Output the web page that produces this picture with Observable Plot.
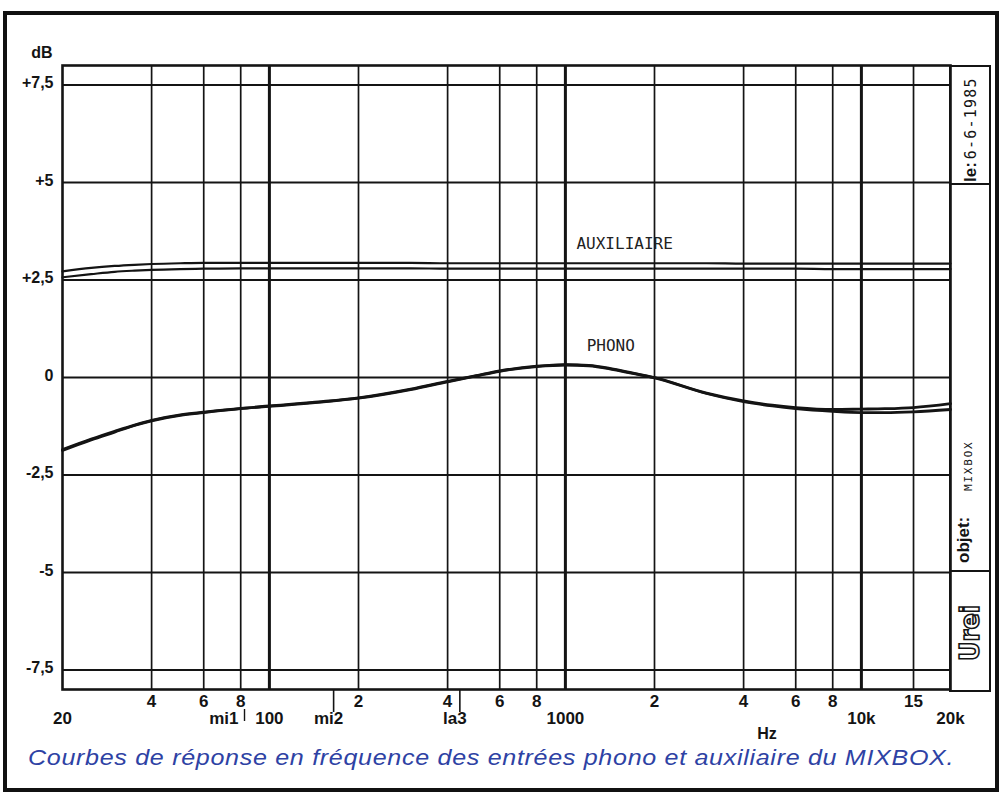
<!DOCTYPE html>
<html>
<head>
<meta charset="utf-8">
<script src="https://cdn.jsdelivr.net/npm/d3@7"></script>
<script src="https://cdn.jsdelivr.net/npm/@observablehq/plot@0.6"></script>
<style>
  body { margin: 0; background: #fff; }
  #wrap { position: relative; width: 1003px; height: 796px; overflow: hidden; background: #fff; font-family: "Liberation Sans", Arial, sans-serif; }
  #frame { position: absolute; left: 3px; top: 11px; width: 996px; height: 781px; border: 4px solid #111; box-sizing: border-box; }
  #chart { position: absolute; left: 0; top: 0; }
  #panel { position: absolute; left: 0; top: 0; }
  #caption { position: absolute; left: 28px; top: 745px; font-size: 22px; font-style: italic; color: #2e42a4; white-space: nowrap; letter-spacing: 0.6px; transform: scaleX(1.14); transform-origin: 0 0; }
</style>
</head>
<body>
<div id="wrap">
  <div id="frame"></div>
  <div id="chart"></div>
  <svg id="panel" width="1003" height="740"></svg>
  <div id="caption">Courbes de réponse en fréquence des entrées phono et auxiliaire du MIXBOX.</div>
</div>
<script>
// ---- data ----
const freqs      = [20, 25, 30, 35, 40, 50, 60, 80, 100, 150, 200, 300, 400, 500, 600, 800, 1000, 1200, 1400, 1600, 2000, 3000, 4000, 5000, 6000, 8000, 10000, 12000, 15000, 20000];
const auxUpper   = [2.72, 2.81, 2.86, 2.89, 2.91, 2.93, 2.94, 2.94, 2.94, 2.94, 2.94, 2.94, 2.93, 2.93, 2.93, 2.93, 2.93, 2.93, 2.93, 2.93, 2.93, 2.93, 2.92, 2.92, 2.92, 2.92, 2.92, 2.92, 2.92, 2.92];
const auxLower   = [2.57, 2.65, 2.71, 2.74, 2.76, 2.78, 2.79, 2.80, 2.80, 2.80, 2.80, 2.80, 2.79, 2.79, 2.79, 2.79, 2.79, 2.79, 2.79, 2.79, 2.79, 2.79, 2.79, 2.79, 2.79, 2.78, 2.78, 2.78, 2.78, 2.78];
const phonoA     = [-1.85, -1.58, -1.38, -1.22, -1.10, -0.96, -0.89, -0.79, -0.73, -0.62, -0.52, -0.30, -0.10, 0.05, 0.17, 0.29, 0.33, 0.31, 0.24, 0.15, 0.00, -0.40, -0.60, -0.71, -0.77, -0.82, -0.81, -0.80, -0.77, -0.67];
const phonoB     = [-1.87, -1.60, -1.40, -1.23, -1.11, -0.97, -0.90, -0.80, -0.74, -0.63, -0.53, -0.31, -0.11, 0.04, 0.16, 0.28, 0.32, 0.30, 0.23, 0.14, -0.01, -0.41, -0.62, -0.73, -0.80, -0.87, -0.90, -0.90, -0.88, -0.82];

const dbLines    = [7.5, 5, 2.5, 0, -2.5, -5, -7.5];
const dbLabels   = ["+7,5", "+5", "+2,5", "0", "-2,5", "-5", "-7,5"];
const thinFreqs  = [40, 60, 80, 200, 400, 600, 800, 2000, 4000, 6000, 8000, 15000];
const thickFreqs = [100, 1000, 10000];
const row1Ticks  = [40, 60, 80, 200, 400, 600, 800, 2000, 4000, 6000, 8000, 15000];
const row1Labels = ["4", "6", "8", "2", "4", "6", "8", "2", "4", "6", "8", "15"];
const row2Ticks  = [20, 100, 1000, 10000, 20000];
const row2Labels = ["20", "100", "1000", "10k", "20k"];
const noteFreqs  = [82.4, 164.8, 440];
const noteLabels = ["mi1", "mi2", "la3"];
const unitLabels = ["dB", "Hz"];
const curveNames = ["AUXILIAIRE", "PHONO"];
const curveLabelFreq = [1090, 1180];
const curveLabelDb   = [3.42, 0.80];

// ---- tables built from the arrays ----
const auxRows = freqs.flatMap((f, i) => [
  {f, db: auxUpper[i], s: "aux1"},
  {f, db: auxLower[i], s: "aux2"}
]);
const phonoRows = freqs.flatMap((f, i) => [
  {f, db: phonoA[i], s: "ph1"},
  {f, db: phonoB[i], s: "ph2"}
]);
const notes = noteFreqs.map((f, i) => ({f, label: noteLabels[i]}));
const curveLabels = curveNames.map((n, i) => ({n, f: curveLabelFreq[i], db: curveLabelDb[i]}));

const ink = "#141414";
const bold = {fontWeight: "bold", fontSize: 17, fill: ink};

const chart = Plot.plot({
  width: 1003,
  height: 740,
  marginLeft: 62,
  marginRight: 53,
  marginTop: 65,
  marginBottom: 51,
  x: {type: "log", domain: [20, 20000], axis: null},
  y: {domain: [-8, 8], axis: null},
  style: {fontFamily: "'Liberation Sans', Arial, sans-serif", background: "transparent", color: ink, overflow: "visible"},
  marks: [
    Plot.ruleY(dbLines, {stroke: ink, strokeWidth: 2}),
    Plot.ruleX(thinFreqs, {stroke: ink, strokeWidth: 1.7}),
    Plot.ruleX(thickFreqs, {stroke: ink, strokeWidth: 3}),
    Plot.frame({stroke: ink, strokeWidth: 2.6}),
    Plot.line(auxRows, {x: "f", y: "db", z: "s", stroke: ink, strokeWidth: 2.2, curve: "monotone-x"}),
    Plot.line(phonoRows, {x: "f", y: "db", z: "s", stroke: ink, strokeWidth: 2.8, curve: "monotone-x"}),
    Plot.text(curveLabels, {x: "f", y: "db", text: "n", textAnchor: "start", fontFamily: "'DejaVu Sans Mono', monospace", fontSize: 16, fill: "#222"}),
    // y tick labels
    Plot.text(dbLines, {y: d => d, text: (d, i) => dbLabels[i], frameAnchor: "left", dx: -9, dy: -2, textAnchor: "end", ...bold, fontSize: 16}),
    // x labels, first row (2, 4, 6, 8 of each decade)
    Plot.text(row1Ticks, {x: d => d, text: (d, i) => row1Labels[i], frameAnchor: "bottom", dy: 17, ...bold}),
    // x labels, second row (decades)
    Plot.text(row2Ticks, {x: d => d, text: (d, i) => row2Labels[i], frameAnchor: "bottom", dy: 34, ...bold}),
    // musical note markers
    Plot.axisX({ticks: noteFreqs.slice(1), tickFormat: () => "", tickSize: 23, label: null, stroke: ink, strokeWidth: 1.6}),
    Plot.ruleX(noteFreqs.slice(0, 1), {stroke: ink, strokeWidth: 1.4, insetTop: 644, insetBottom: -32}),
    Plot.text(notes.slice(0, 1), {x: "f", text: "label", frameAnchor: "bottom", dy: 34, dx: -6, textAnchor: "end", ...bold}),
    Plot.text(notes.slice(1), {x: "f", text: "label", frameAnchor: "bottom", dy: 34, dx: -5, ...bold}),
    // units
    Plot.text(unitLabels.slice(0, 1), {frameAnchor: "top-left", text: d => d, dx: -10, dy: -19, textAnchor: "end", ...bold, fontSize: 16}),
    Plot.text(unitLabels.slice(1), {x: 4800, text: d => d, frameAnchor: "bottom", dy: 49, ...bold, fontSize: 16})
  ]
});
document.getElementById("chart").appendChild(chart);

// ---- side title block (date / object / logo) ----
const panel = d3.select("#panel");
panel.append("rect").attr("x", 950).attr("y", 66).attr("width", 40).attr("height", 625)
  .attr("fill", "none").attr("stroke", ink).attr("stroke-width", 2);
panel.append("line").attr("x1", 950).attr("x2", 990).attr("y1", 184).attr("y2", 184).attr("stroke", ink).attr("stroke-width", 2);
panel.append("line").attr("x1", 950).attr("x2", 990).attr("y1", 571).attr("y2", 571).attr("stroke", ink).attr("stroke-width", 2);

const t1 = panel.append("text").attr("transform", "translate(976,182) rotate(-90)")
  .attr("font-family", "'Liberation Sans', Arial, sans-serif").attr("fill", ink);
t1.append("tspan").attr("font-weight", "bold").attr("font-size", 17).text("le:");
t1.append("tspan").attr("font-family", "'DejaVu Sans Mono', monospace").attr("font-size", 15).attr("letter-spacing", 1.2).attr("dx", 3).text("6-6-1985");

panel.append("text").attr("transform", "translate(969,563) rotate(-90)")
  .attr("font-family", "'Liberation Sans', Arial, sans-serif").attr("font-weight", "bold").attr("font-size", 17).attr("fill", ink).text("objet:");
panel.append("text").attr("transform", "translate(972,491) rotate(-90)")
  .attr("font-family", "'DejaVu Sans Mono', monospace").attr("font-size", 11).attr("letter-spacing", 1.8).attr("fill", ink).text("MIXBOX");
panel.append("text").attr("transform", "translate(979,661) rotate(-90)")
  .attr("font-family", "'DejaVu Sans', sans-serif").attr("font-weight", "bold").attr("font-size", 26)
  .attr("fill", "#fff").attr("stroke", ink).attr("stroke-width", 1.6).attr("textLength", 56).attr("lengthAdjust", "spacingAndGlyphs").text("Urei");
</script>
</body>
</html>
